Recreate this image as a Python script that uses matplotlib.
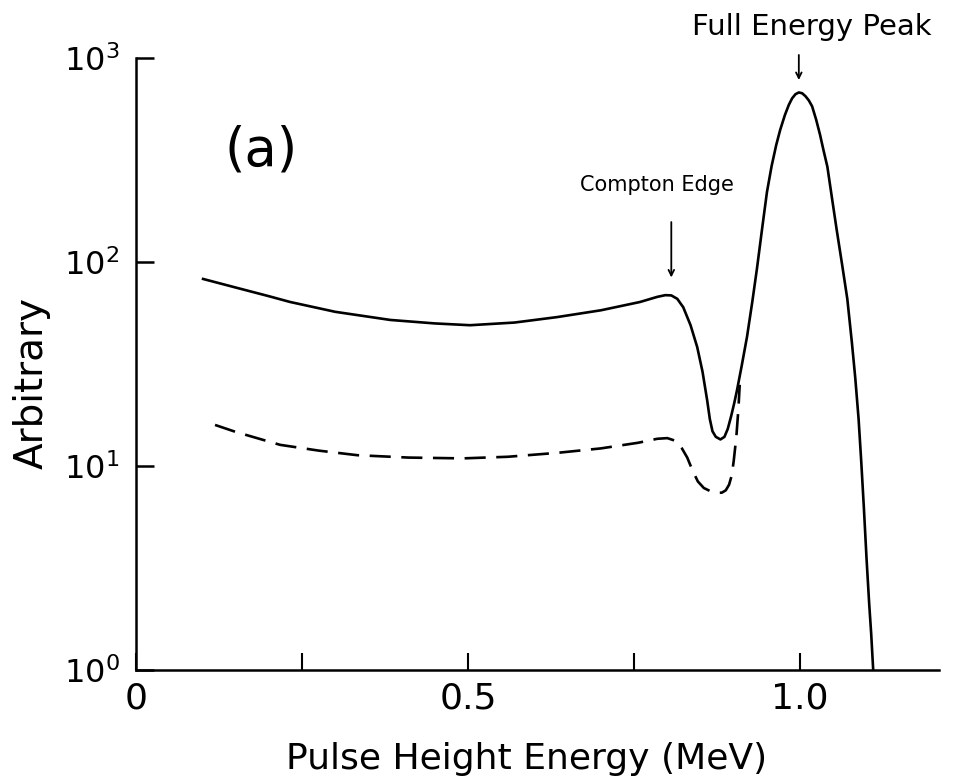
# -*- coding: utf-8 -*-
"""
Pulse height spectrum (a): Compton continuum and full energy peak
"""
### ---------------------- IMPORTS ---------------------- ###
import matplotlib
matplotlib.use('Agg')
import matplotlib.pyplot as plt
from matplotlib.ticker import FixedLocator
### ----------------------------------------------------- ###

# solid curve
energy_solid = [0.101, 0.15, 0.20, 0.232, 0.30, 0.383, 0.45, 0.503, 0.57, 0.634,
                0.70, 0.759, 0.785, 0.797, 0.806, 0.815, 0.824, 0.835, 0.845,
                0.853, 0.860, 0.864, 0.868, 0.873, 0.880, 0.886, 0.891, 0.896,
                0.901, 0.905, 0.912, 0.920, 0.928, 0.935, 0.943, 0.950, 0.957,
                0.964, 0.970, 0.977, 0.983, 0.988, 0.993, 0.998, 1.003, 1.008,
                1.013, 1.018, 1.024, 1.030, 1.035, 1.041, 1.048, 1.055, 1.063,
                1.071, 1.078, 1.083, 1.088, 1.092, 1.096, 1.100, 1.104, 1.107,
                1.110]
counts_solid = [82.6, 75, 68, 63.7, 57, 52, 50, 49, 50.5, 53.7,
                58, 63.7, 67.5, 68.8, 68.6, 66, 60, 49, 38.3,
                29, 21, 17, 14.8, 13.9, 13.5, 13.9, 15.2, 17.5,
                20.5, 23.6, 31, 43, 64, 93, 148, 220, 295,
                375, 445, 525, 590, 635, 665, 678, 672, 650,
                620, 580, 500, 420, 355, 293, 205, 144, 98,
                66, 40, 27, 17, 10.5, 6.2, 3.5, 2.1, 1.5,
                1.0]

# dashed curve
energy_dash = [0.119, 0.15, 0.217, 0.275, 0.333, 0.41, 0.492, 0.56, 0.634, 0.70,
               0.756, 0.785, 0.800, 0.812, 0.822, 0.830, 0.838, 0.846, 0.855,
               0.864, 0.873, 0.882, 0.888, 0.893, 0.897, 0.900, 0.904, 0.907,
               0.909]
counts_dash = [15.9, 14.7, 12.7, 11.9, 11.3, 11.0, 10.9, 11.1, 11.6, 12.2,
               13.0, 13.6, 13.7, 13.3, 12.2, 11.0, 9.5, 8.4, 7.8,
               7.55, 7.4, 7.4, 7.6, 8.1, 9.0, 10.6, 14.0, 19,
               25]

# ticks
xtick_pos = [0, 0.5, 1.0]
xtick_labels = ['0', '0.5', '1.0']
xminor_pos = [0.25, 0.75]
ytick_pos = [1, 10, 100, 1000]
ytick_labels = [r'$10^{0}$', r'$10^{1}$', r'$10^{2}$', r'$10^{3}$']

if __name__ == '__main__':

    fig = plt.figure(figsize=(9.55, 7.83), dpi=100)
    ax = fig.add_axes([0.1424, 0.1443, 0.8408, 0.7816])

    # curves
    ax.plot(energy_solid, counts_solid, color='black', lw=1.9,
            solid_joinstyle='round')
    ax.plot(energy_dash, counts_dash, color='black', lw=1.9,
            linestyle=(0, (8, 4)))

    # axes
    ax.set_yscale('log')
    ax.set_xlim(0, 1.209)
    ax.set_ylim(1, 1000)
    ax.spines['top'].set_visible(False)
    ax.spines['right'].set_visible(False)
    for side in ['left', 'bottom']:
        ax.spines[side].set_linewidth(1.8)

    ax.xaxis.set_major_locator(FixedLocator(xtick_pos))
    ax.set_xticklabels(xtick_labels)
    ax.xaxis.set_minor_locator(FixedLocator(xminor_pos))
    ax.yaxis.set_major_locator(FixedLocator(ytick_pos))
    ax.set_yticklabels(ytick_labels)
    ax.yaxis.set_minor_locator(FixedLocator([]))

    ax.tick_params(axis='x', which='both', direction='in', length=12,
                   width=1.5, labelsize=26, pad=8)
    ax.tick_params(axis='y', which='both', direction='in', length=13,
                   width=1.8, labelsize=23, pad=12)

    ax.set_xlabel('Pulse Height Energy (MeV)', fontsize=26)
    ax.xaxis.set_label_coords(0.487, -0.118)
    ax.set_ylabel('Arbitrary', fontsize=28)
    ax.yaxis.set_label_coords(-0.106, 0.469)

    # labels and arrows
    ax.text(0.188, 354, '(a)', fontsize=38, ha='center', va='center')
    ax.text(0.785, 238, 'Compton Edge', fontsize=15, ha='center', va='center')
    ax.annotate('', xy=(0.806, 84), xytext=(0.806, 157),
                arrowprops=dict(arrowstyle='->', color='black', lw=1.3,
                                shrinkA=0, shrinkB=0))
    ax.text(1.017, 1419, 'Full Energy Peak', fontsize=21, ha='center',
            va='center', clip_on=False)
    ax.annotate('', xy=(0.998, 780), xytext=(0.998, 1035),
                arrowprops=dict(arrowstyle='->', color='black', lw=1.3,
                                shrinkA=0, shrinkB=0),
                annotation_clip=False)

    fig.savefig('out.png', dpi=100)
